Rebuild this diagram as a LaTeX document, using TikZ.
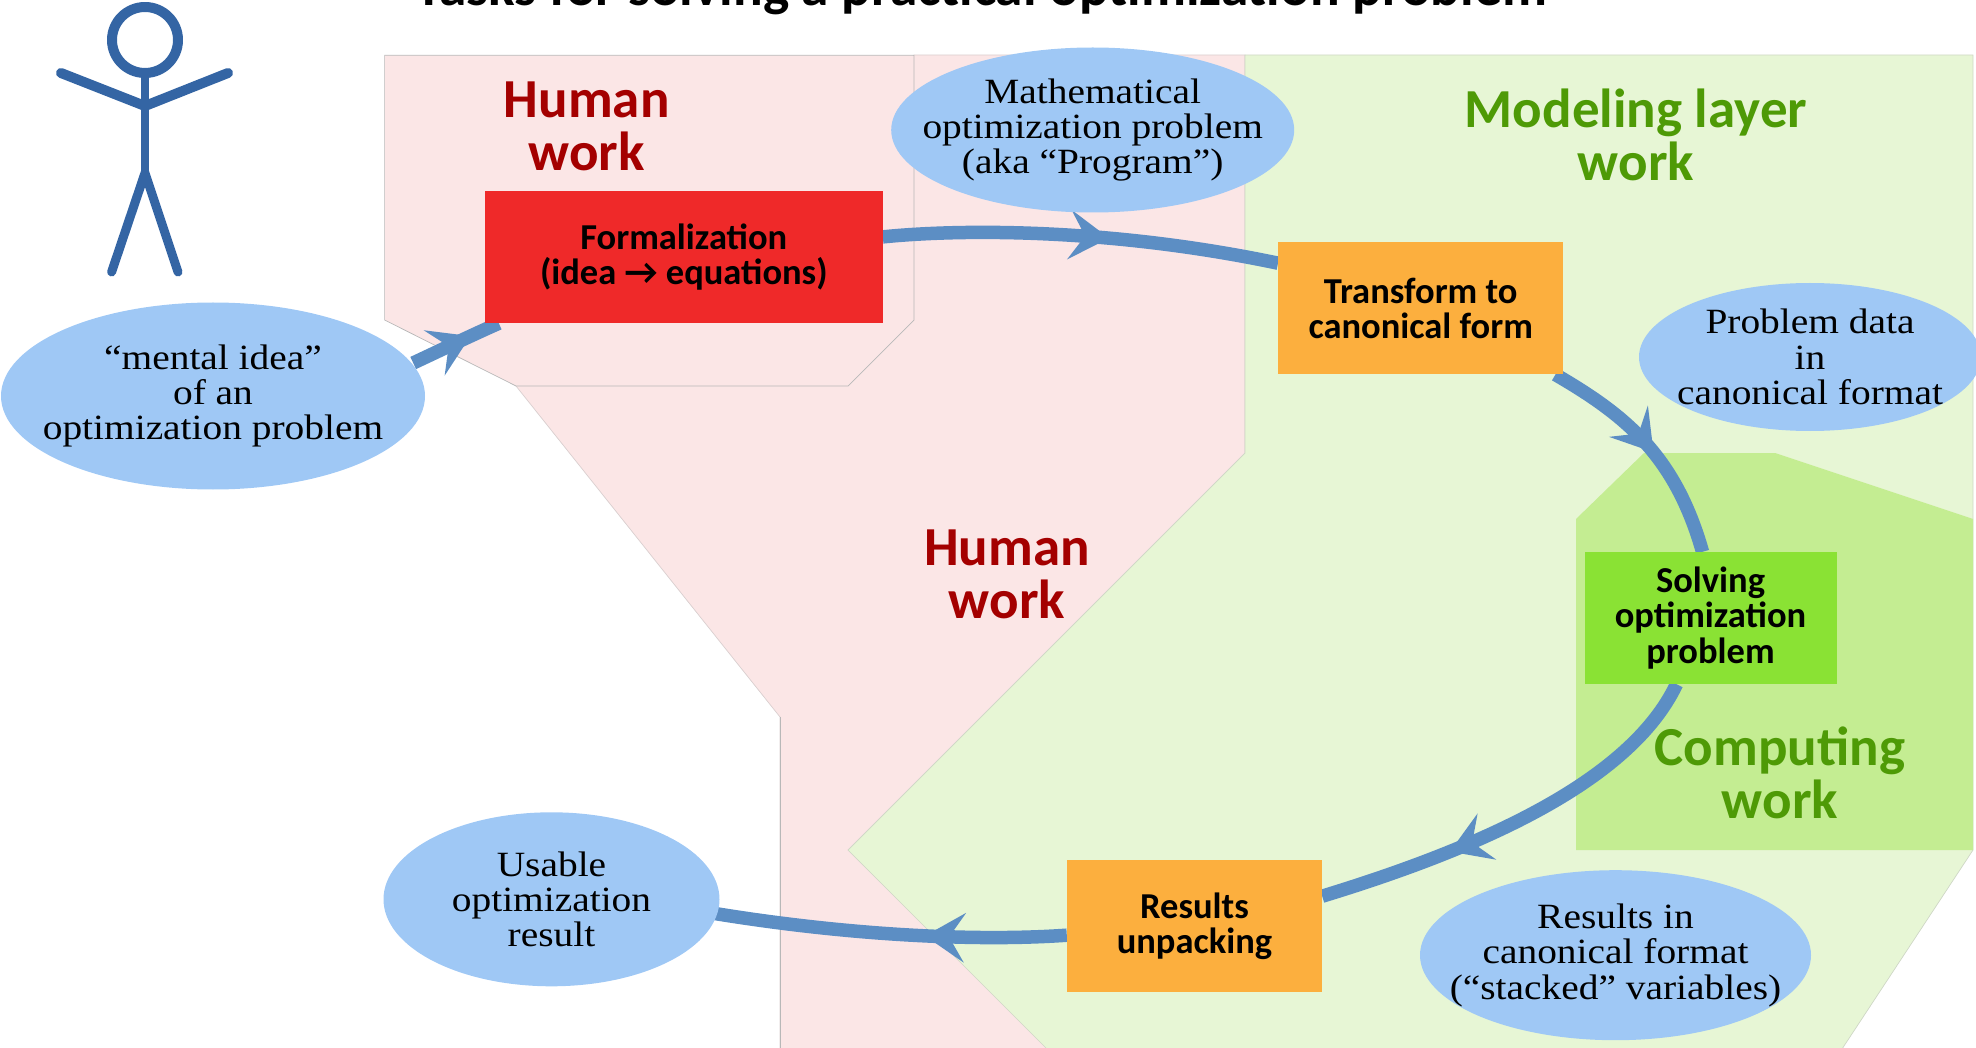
\documentclass[tikz,border=0pt]{standalone}
\usepackage{fontspec}
\setmainfont[FakeStretch=1.11]{Liberation Serif}
\newfontfamily\headfont{Carlito}
\usetikzlibrary{arrows.meta,shapes.geometric,decorations.markings,calc}
\definecolor{blob}{HTML}{9FC8F5}
\definecolor{flow}{HTML}{5C8EC4}
\definecolor{stick}{HTML}{3465A4}
\definecolor{hred}{HTML}{A40000}
\definecolor{mgreen}{HTML}{4E9A06}
\definecolor{pinkzone}{HTML}{FBE6E6}
\definecolor{greenzone}{HTML}{E7F6D5}
\definecolor{compzone}{HTML}{C4ED92}
\definecolor{redbox}{HTML}{EF2929}
\definecolor{orangebox}{HTML}{FCAF3E}
\definecolor{greenbox}{HTML}{8AE234}
\definecolor{zoneline}{HTML}{B8B8B8}
\pgfdeclarelayer{zones}
\pgfdeclarelayer{links}
\pgfsetlayers{zones,links,main}
\tikzset{
  blobnode/.style={ellipse,fill=blob,inner xsep=-70pt,inner ysep=-30pt,align=center,text=black,
    font=\fontsize{35.5}{35.3}\selectfont},
  taskbox/.style={rectangle,inner sep=0pt,align=center,text=black,
    font=\headfont\bfseries\fontsize{36.5}{35.3}\selectfont},
  zonelabel/.style={align=center,inner sep=0pt,
    font=\headfont\bfseries\fontsize{55}{53}\selectfont},
  pinkarea/.style={fill=pinkzone,draw=zoneline,line width=0.7pt},
  softpink/.style={fill=pinkzone,draw=zoneline!50!pinkzone,line width=0.7pt},
  greenarea/.style={fill=greenzone,draw=zoneline!50!greenzone,line width=0.7pt},
  limb/.style={draw=stick,line cap=round,line join=round},
  flowline/.style={draw=flow,line width=13.5pt,postaction={decorate},
    decoration={markings,mark=at position #1 with
      {\arrow[flow,line width=0pt]{Stealth[length=40pt,width=50pt,inset=16pt]}}}},
}
\begin{document}
\begin{tikzpicture}[x=1pt,y=-1pt]
\useasboundingbox (0,0) rectangle (1976,1048);
\begin{pgfonlayer}{zones}
  \path[softpink] (516,386) -- (780,717) -- (780,1049) -- (1050,1049) -- (848,850)
     -- (1245,453) -- (1245,55) -- (914,55) -- cycle;
  \draw[zoneline,line width=0.7pt] (780,717) -- (780,1049);
  \path[pinkarea] (384.6,55.3) -- (914,55.3) -- (914,320) -- (848,386) -- (516,386)
     -- (384.6,320) -- cycle;
  \path[greenarea] (1245,55) -- (1973,55) -- (1973,850) -- (1842,1049) -- (1047,1049)
     -- (848,850) -- (1245,453) -- cycle;
  \fill[compzone] (1576,519) -- (1644,453) -- (1775,453) -- (1973,519) -- (1973,850)
     -- (1576,850) -- cycle;
\end{pgfonlayer}

% stick figure
\draw[limb,line width=10pt] (145,40) ellipse [x radius=33,y radius=33];
\draw[limb,line width=8pt] (145,76) -- (145,173);
\draw[limb,line width=10pt] (61,73) -- (145,106) -- (228,73);
\draw[limb,line width=9pt] (111.6,272) -- (145,173) -- (178,272);

% title
\node[anchor=base,inner sep=0pt,font=\headfont\bfseries\fontsize{55.4}{56}\selectfont] (title)
  at (981.5,5.5) {Tasks for solving a practical optimization problem};

% zone labels
\node[zonelabel,text=hred] (humanA) at (586.7,126) {Human\\work};
\node[zonelabel,text=hred] (humanB) at (1007,574) {Human\\work};
\node[zonelabel,text=mgreen] (modeling) at (1636,135) {Modeling layer\\work};
\node[zonelabel,text=mgreen] (computing) at (1780,773) {Computing\\work};

% blobs
\node[blobnode,minimum width=424pt,minimum height=187pt] (mental) at (213,396)
  {``mental idea''\\of an\\optimization problem};
\node[blobnode,minimum width=403pt,minimum height=165pt] (math) at (1092.7,130)
  {Mathematical\\optimization problem\\(aka ``Program'')};
\node[blobnode,minimum width=342pt,minimum height=148pt] (pdata) at (1810,357)
  {Problem data\\in\\canonical format};
\node[blobnode,minimum width=391pt,minimum height=170pt] (rcanon) at (1615.5,955.2)
  {Results in\\canonical format\\(``stacked'' variables)};
\node[blobnode,minimum width=336pt,minimum height=174pt] (usable) at (551.5,899.3)
  {Usable\\optimization\\result};

% tasks
\node[taskbox,fill=redbox,minimum width=397.6pt,minimum height=132.3pt] (formal) at (683.8,256.9)
  {Formalization\\(idea \char"2192\ equations)};
\node[taskbox,fill=orangebox,minimum width=285pt,minimum height=132.3pt] (transform) at (1420.7,308.2)
  {Transform to\\canonical form};
\node[taskbox,fill=greenbox,minimum width=252pt,minimum height=132pt] (solving) at (1710.5,618)
  {Solving\\optimization\\problem};
\node[taskbox,fill=orangebox,minimum width=255pt,minimum height=132.4pt] (results) at (1194.5,926.2)
  {Results\\unpacking};

% connectors
\begin{pgfonlayer}{links}
  \path[flowline=0.67] ([shift={(-12pt,33pt)}]mental.east) .. controls (441,350) and (470,336)
     .. ([xshift=14pt]formal.south west);
  \path[flowline=0.57] ([yshift=20pt]formal.east) .. controls (960,229) and (1110,228)
     .. ([yshift=45pt]transform.west);
  \path[flowline=0.53] ([xshift=-8pt]transform.south east) .. controls (1625,415) and (1675,455)
     .. ([xshift=-8pt]solving.north);
  \path[flowline=0.68] ([xshift=-34pt]solving.south) .. controls (1630,782) and (1480,848)
     .. ([yshift=30pt]results.east);
  \path[flowline=0.40] ([yshift=-9pt]results.west) .. controls (970,942) and (840,934)
     .. ([shift={(-6pt,-14pt)}]usable.east);
\end{pgfonlayer}
\end{tikzpicture}
\end{document}
